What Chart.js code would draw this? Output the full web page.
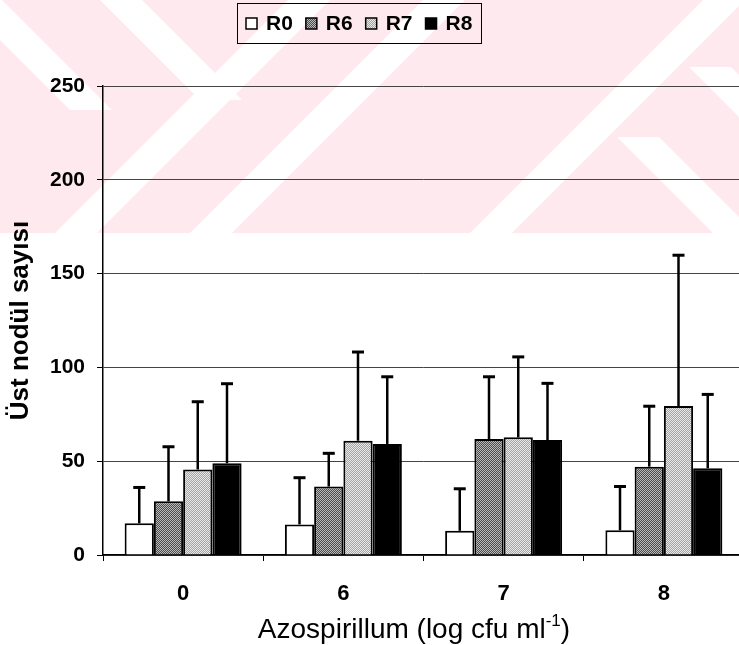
<!DOCTYPE html>
<html>
<head>
<meta charset="utf-8">
<script src="https://cdn.jsdelivr.net/npm/chart.js@4.4.0/dist/chart.umd.min.js"></script>
<style>
    html, body { margin: 0; padding: 0; background: #fff; overflow: hidden; }
    #wrap { width: 744px; height: 645px; }
</style>
</head>
<body>
<div id="wrap"><canvas id="chart" width="744" height="645"></canvas></div>
<script>
// Azospirillum dozları (log cfu ml-1)
const categories = ['0', '6', '7', '8']
const seriesNames = ['R0', 'R6', 'R7', 'R8']

// ortalama üst nodül sayıları
const meanR0 = [16.9, 16.3, 12.9, 13.2]
const meanR6 = [28.6, 36.5, 61.8, 47.1]
const meanR7 = [45.6, 60.9, 62.7, 79.4]
const meanR8 = [48.9, 59.2, 61.3, 46.2]

// standart sapmalar (sadece üst hata çubuğu)
const sdR0 = [19.1, 24.9, 22.4, 23.3]
const sdR6 = [29.1, 17.7, 33.2, 32.2]
const sdR7 = [36.1, 47.3, 42.9, 80.4]
const sdR8 = [42.4, 35.8, 30.2, 39.4]

const yTicks = [0, 50, 100, 150, 200, 250]

const FONT = '"Liberation Sans", Arial, sans-serif'

// noktalı gri dolgu deseni
function makeStipple(c1, c2) {
    const cv = document.createElement('canvas')
    cv.width = 2
    cv.height = 2
    const g = cv.getContext('2d')
    g.fillStyle = c1
    g.fillRect(0, 0, 2, 2)
    g.fillStyle = c2
    g.fillRect(0, 0, 1, 1)
    g.fillRect(1, 1, 1, 1)
    return g.createPattern(cv, 'repeat')
}

const fills = ['#ffffff', makeStipple('#4c4c4c', '#bababa'), makeStipple('#a4a4a4', '#e8e8e8'), '#000000']
const means = [meanR0, meanR6, meanR7, meanR8]
const sds = [sdR0, sdR6, sdR7, sdR8]

// arka plandaki pembe filigran şeridi
const pinkBand = {
    id: 'pinkBand',
    beforeDraw(chart) {
        const ctx = chart.ctx
        const h = 233
        ctx.save()
        ctx.fillStyle = '#fff'
        ctx.fillRect(0, 0, chart.width, chart.height)
        ctx.beginPath()
        ctx.rect(0, 0, chart.width, h)
        ctx.clip()
        ctx.fillStyle = 'rgb(253,233,238)'
        ctx.fillRect(0, 0, chart.width, h)
        ctx.fillStyle = '#fff'
        const w = 42
        // "/" yönlü bantlar
        ;[55, 190, 470].forEach(x0 => {
            ctx.beginPath()
            ctx.moveTo(x0, h)
            ctx.lineTo(x0 + w, h)
            ctx.lineTo(x0 + w + h, 0)
            ctx.lineTo(x0 + h, 0)
            ctx.closePath()
            ctx.fill()
        })
        // "\" yönlü bantlar
        ;[[100, 0, 100], [617, 137, h], [689, 67, h], [-40, 0, 110]].forEach(([x0, y0, y1]) => {
            ctx.beginPath()
            ctx.moveTo(x0, y0)
            ctx.lineTo(x0 + w, y0)
            ctx.lineTo(x0 + w + (y1 - y0), y1)
            ctx.lineTo(x0 + (y1 - y0), y1)
            ctx.closePath()
            ctx.fill()
        })
        ctx.restore()
    }
}

// ortalama + standart sapma çizgileri
const errorBars = {
    id: 'errorBars',
    afterDatasetsDraw(chart) {
        const ctx = chart.ctx
        const yScale = chart.scales.y
        ctx.save()
        ctx.strokeStyle = '#000'
        chart.data.datasets.forEach((ds, i) => {
            const meta = chart.getDatasetMeta(i)
            meta.data.forEach((bar, j) => {
                const top = yScale.getPixelForValue(ds.data[j] + ds.errors[j])
                ctx.lineWidth = 2.5
                ctx.beginPath()
                ctx.moveTo(bar.x, bar.y)
                ctx.lineTo(bar.x, top)
                ctx.stroke()
                ctx.lineWidth = 3
                ctx.beginPath()
                ctx.moveTo(bar.x - 6, top)
                ctx.lineTo(bar.x + 6, top)
                ctx.stroke()
            })
        })
        ctx.restore()
    }
}

// çerçeveli gösterge kutusu
const boxLegend = {
    id: 'boxLegend',
    afterDraw(chart) {
        const ctx = chart.ctx
        ctx.save()
        ctx.font = 'bold 21px ' + FONT
        const sw = 11, gap = 9, space = 13
        const items = chart.data.datasets.map(ds => ({
            label: ds.label,
            fill: ds.backgroundColor,
            w: ctx.measureText(ds.label).width
        }))
        const total = items.reduce((s, it) => s + sw + gap + it.w, 0) + space * (items.length - 1)
        let x = Math.round(359 - total / 2)
        const cy = 23
        ctx.strokeStyle = '#000'
        ctx.lineWidth = 1
        ctx.strokeRect(x - 8.5, 3.5, Math.round(total) + 18, 40)
        items.forEach(it => {
            ctx.fillStyle = it.fill
            ctx.fillRect(x, cy - 5, sw, sw)
            ctx.lineWidth = 1.5
            ctx.strokeRect(x, cy - 5, sw, sw)
            x += sw + gap
            ctx.fillStyle = '#000'
            ctx.textBaseline = 'middle'
            ctx.textAlign = 'left'
            ctx.fillText(it.label, x, cy + 1)
            x += it.w + space
        })
        ctx.restore()
    }
}

// x ekseni başlığı, üst simgeli birim
const xTitle = {
    id: 'xTitle',
    afterDraw(chart) {
        const ctx = chart.ctx
        const main = 'Azospirillum (log cfu ml'
        const sup = '-1'
        const tail = ')'
        ctx.save()
        ctx.fillStyle = '#000'
        ctx.textBaseline = 'alphabetic'
        ctx.textAlign = 'left'
        ctx.font = '28px ' + FONT
        const wMain = ctx.measureText(main).width
        const wTail = ctx.measureText(tail).width
        ctx.font = '17px ' + FONT
        const wSup = ctx.measureText(sup).width
        let x = 414 - (wMain + wSup + wTail) / 2
        const base = 638
        ctx.font = '28px ' + FONT
        ctx.fillText(main, x, base)
        x += wMain
        ctx.font = '17px ' + FONT
        ctx.fillText(sup, x, base - 12)
        x += wSup
        ctx.font = '28px ' + FONT
        ctx.fillText(tail, x, base)
        ctx.restore()
    }
}

const datasets = seriesNames.map((name, i) => ({
    label: name,
    data: means[i],
    errors: sds[i],
    backgroundColor: fills[i],
    borderColor: '#000',
    borderWidth: 2,
    borderSkipped: 'start',
    barPercentage: 1,
    categoryPercentage: 0.73
}))

const ctx = document.getElementById('chart').getContext('2d')
new Chart(ctx, {
    type: 'bar',
    data: {
        labels: categories,
        datasets: datasets
    },
    options: {
        responsive: false,
        animation: false,
        devicePixelRatio: 1,
        layout: {
            padding: { top: 86, left: 0, right: 0, bottom: 0 }
        },
        plugins: {
            legend: { display: false },
            tooltip: { enabled: false }
        },
        scales: {
            x: {
                grid: {
                    display: true,
                    drawOnChartArea: false,
                    drawTicks: true,
                    tickLength: 6,
                    tickColor: '#000',
                    offset: true
                },
                border: { display: true, color: '#000', width: 1.5 },
                ticks: {
                    color: '#000',
                    padding: 20,
                    font: { family: FONT, size: 22, weight: 'bold' }
                },
                afterFit(scale) {
                    scale.height = 90
                }
            },
            y: {
                min: 0,
                max: 250,
                afterBuildTicks(scale) {
                    scale.ticks = yTicks.map(v => ({ value: v }))
                },
                grid: {
                    color: '#444',
                    lineWidth: 1,
                    tickLength: 6,
                    tickColor: '#000'
                },
                border: { display: true, color: '#000', width: 1.5 },
                ticks: {
                    color: '#000',
                    padding: 12,
                    font: { family: FONT, size: 21, weight: 'bold' }
                },
                title: {
                    display: true,
                    text: 'Üst nodül sayısı',
                    color: '#000',
                    padding: { top: 5, bottom: 0 },
                    font: { family: FONT, size: 26, weight: 'bold' }
                },
                afterFit(scale) {
                    scale.width = 103
                }
            }
        }
    },
    plugins: [pinkBand, errorBars, boxLegend, xTitle]
})
</script>
</body>
</html>
